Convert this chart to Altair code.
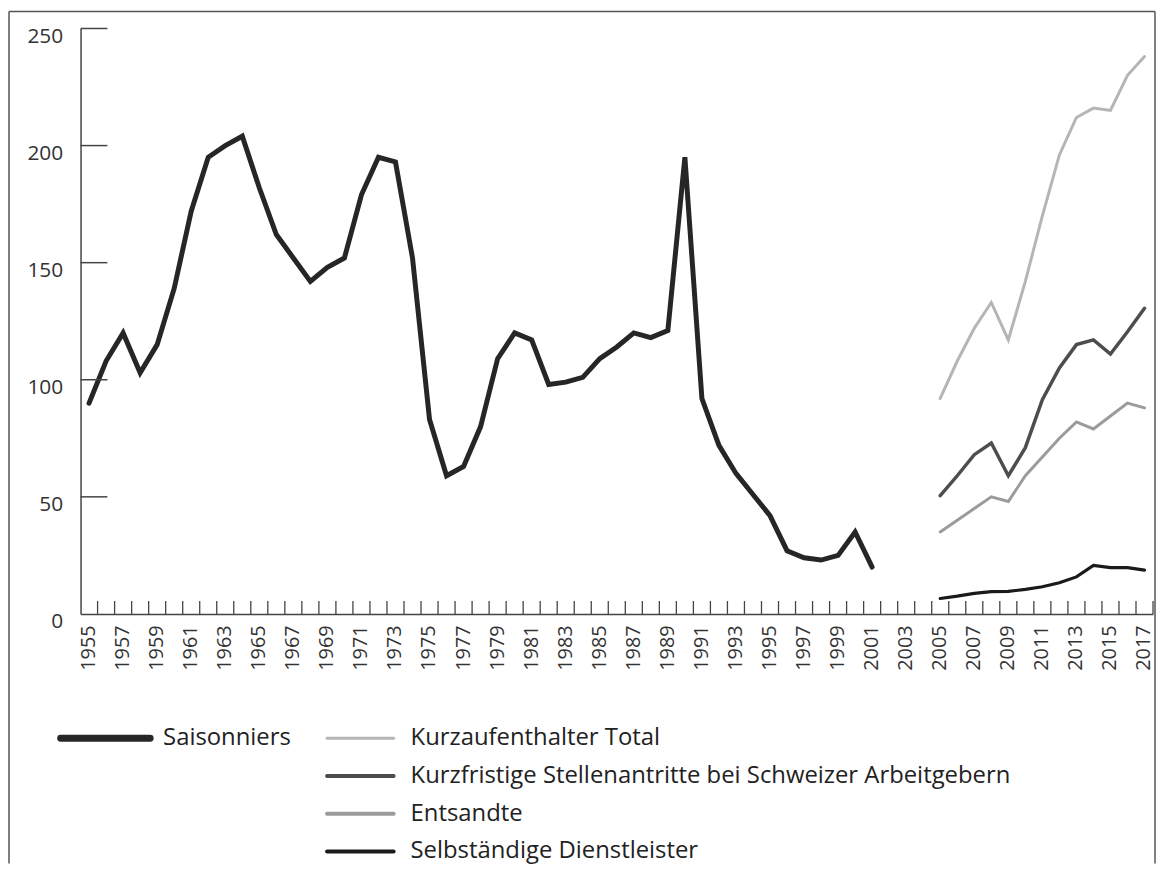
import altair as alt
import pandas as pd

# ---------------- data ----------------
years_all = list(range(1955, 2018))
sais_years = list(range(1955, 2002))
saisonniers = [90, 108, 120, 103, 115, 139, 172, 195, 200, 204,
               182, 162, 152, 142, 148, 152, 179, 195, 193, 152,
               83, 59, 63, 80, 109, 120, 117, 98, 99, 101,
               109, 114, 120, 118, 121, 195, 92, 72, 60, 51,
               42, 27, 24, 23, 25, 35, 20]
new_years = list(range(2005, 2018))
kurzaufenthalter = [92, 108, 122, 133, 117, 142, 170, 196, 212, 216, 215, 230, 238]
kurzfristige = [50.5, 59, 68, 73, 59, 71, 91.5, 105, 115, 117, 111, 120.5, 130.5]
entsandte = [35, 40, 45, 50, 48, 59, 67, 75, 82, 79, 84.5, 90, 88]
selbstaendige = [6.6, 7.6, 8.8, 9.5, 9.6, 10.5, 11.6, 13.3, 15.8, 20.7, 19.8, 19.8, 18.7]
y_ticks = [0, 50, 100, 150, 200, 250]

series_names = ["Saisonniers", "Kurzaufenthalter Total",
                "Kurzfristige Stellenantritte bei Schweizer Arbeitgebern",
                "Entsandte", "Selbständige Dienstleister"]

# ---------------- styling ----------------
W, H = 1079, 589
FONT = "Open Sans"
styles = {
    "Saisonniers": ("#262626", 5.0),
    "Kurzaufenthalter Total": ("#b5b5b5", 3.0),
    "Kurzfristige Stellenantritte bei Schweizer Arbeitgebern": ("#4d4d4d", 3.5),
    "Entsandte": ("#9b9b9b", 3.0),
    "Selbständige Dienstleister": ("#1a1a1a", 3.2),
}

x_scale = alt.Scale(domain=years_all, type="band", paddingInner=0, paddingOuter=0)
x_axis = alt.Axis(
    title=None, grid=False, ticks=False, tickSize=0,
    domainColor="#444", domainWidth=1.5,
    labelAngle=270, labelAlign="right", labelBaseline="middle",
    labelPadding=11, labelFontSize=20, labelFont=FONT, labelColor="#333",
    labelOverlap=False,
    labelExpr="datum.value % 2 == 1 ? datum.label : ''",
)
y_scale = alt.Scale(domain=[0, 250], nice=False)
y_axis = alt.Axis(
    title=None, grid=False, ticks=False, tickSize=0, values=y_ticks,
    domainColor="#444", domainWidth=1.5,
    labelPadding=18, labelFontSize=21, labelFont=FONT, labelColor="#333",
    labelBaseline="alphabetic", labelOffset=14,
)


def xenc(band=0.5):
    return alt.X("year:O", scale=x_scale, axis=x_axis, bandPosition=band)


def yenc():
    return alt.Y("value:Q", scale=y_scale, axis=y_axis)


def series_layer(name, years, vals):
    color, width = styles[name]
    df = pd.DataFrame({"year": years, "value": vals})
    return alt.Chart(df).mark_line(
        color=color, strokeWidth=width, strokeCap="round", strokeJoin="miter"
    ).encode(x=xenc(0.5), y=yenc())


layers = [
    series_layer("Saisonniers", sais_years, saisonniers),
    series_layer("Kurzaufenthalter Total", new_years, kurzaufenthalter),
    series_layer("Kurzfristige Stellenantritte bei Schweizer Arbeitgebern", new_years, kurzfristige),
    series_layer("Entsandte", new_years, entsandte),
    series_layer("Selbständige Dienstleister", new_years, selbstaendige),
]

# inward pointing ticks (y axis)
ytick_df = pd.DataFrame({"value": y_ticks[1:]})
layers.append(
    alt.Chart(ytick_df).mark_rule(color="#444", strokeWidth=1.5).encode(
        y=yenc(), x=alt.value(0), x2=alt.value(27)
    )
)
# inward pointing ticks (x axis) at band boundaries
xtick_df = pd.DataFrame({"year": years_all})
layers.append(
    alt.Chart(xtick_df).mark_rule(color="#444", strokeWidth=1.3).encode(
        x=xenc(1), y=alt.value(H), y2=alt.value(H - 13)
    )
)

# ---------------- manual legend ----------------
one = pd.DataFrame({"k": [0]})
legend_pos = [
    # (swatch x1, x2, y, text x, swatch width)
    (-20, 70, 714, 83, 7),
    (248, 315, 714, 332, 3),
    (248, 315, 752, 332, 4),
    (248, 315, 790, 332, 4),
    (248, 315, 828, 332, 4),
]
for name, (sx1, sx2, sy, tx, sw) in zip(series_names, legend_pos):
    color, _ = styles[name]
    layers.append(
        alt.Chart(one).mark_rule(color=color, strokeWidth=sw, strokeCap="round").encode(
            x=alt.value(sx1), x2=alt.value(sx2), y=alt.value(sy)
        )
    )
    layers.append(
        alt.Chart(one).mark_text(
            text=name, align="left", baseline="middle", font=FONT, fontSize=24, color="#222"
        ).encode(x=alt.value(tx), y=alt.value(sy))
    )

# ---------------- frame ----------------
FL, FR, FT, FB = -72, 1081, -17, 840
frame_style = dict(color="#555", strokeWidth=1.5)
layers.append(alt.Chart(one).mark_rule(**frame_style).encode(
    x=alt.value(FL), x2=alt.value(FR), y=alt.value(FT)))
layers.append(alt.Chart(one).mark_rule(**frame_style).encode(
    x=alt.value(FL), y=alt.value(FT), y2=alt.value(FB)))
layers.append(alt.Chart(one).mark_rule(**frame_style).encode(
    x=alt.value(FR), y=alt.value(FT), y2=alt.value(FB)))

chart = alt.layer(*layers).properties(
    width=W, height=H, padding=0
).configure_view(stroke=None)

chart.save("out.html", embed_options={"renderer": "svg", "actions": False})
